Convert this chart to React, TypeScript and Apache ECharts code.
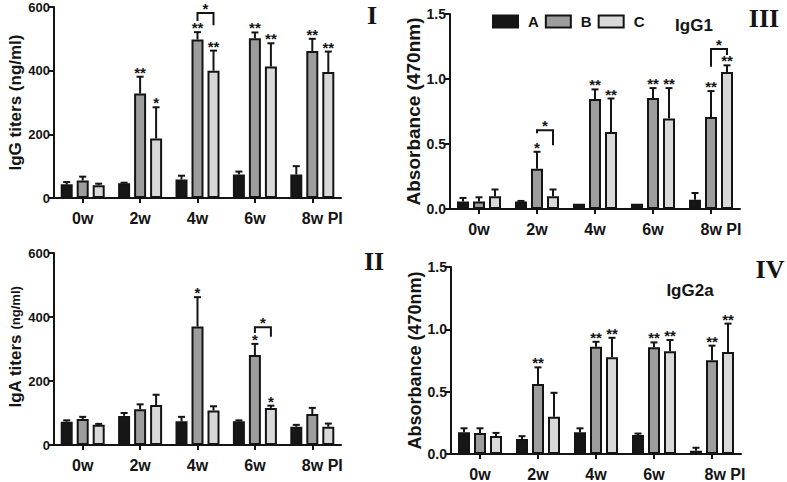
import React, { useEffect, useRef } from "react";
import * as echarts from "echarts";

const categories = ["0w", "2w", "4w", "6w", "8w PI"];
const groupNames = ["A", "B", "C"];

// Panel I – IgG titers (ng/ml)
const igG_A = [43, 46, 58, 74, 74];
const igG_B = [55, 328, 498, 502, 462];
const igG_C = [40, 187, 400, 413, 396];
const igG_A_sd = [7, 2, 12, 9, 26];
const igG_B_sd = [12, 53, 23, 18, 38];
const igG_C_sd = [5, 98, 63, 73, 64];
const igG_sig = [["", "", ""], ["", "**", "*"], ["", "**", "**"], ["", "**", "**"], ["", "**", "**"]];
const igG_brackets = [{ cat: 2, top: 581, left: 556, right: 543, label: "*" }];

// Panel II – IgA titers (ng/ml)
const igA_A = [73, 91, 74, 74, 57];
const igA_B = [81, 112, 370, 281, 97];
const igA_C = [63, 125, 108, 116, 57];
const igA_A_sd = [4, 9, 14, 3, 6];
const igA_B_sd = [7, 15, 92, 35, 19];
const igA_C_sd = [3, 32, 13, 7, 10];
const igA_sig = [["", "", ""], ["", "", ""], ["", "*", ""], ["", "*", "*"], ["", "", ""]];
const igA_brackets = [{ cat: 3, top: 368, left: 350, right: 338, label: "*" }];

// Panel III – IgG1 absorbance (470nm)
const igG1_A = [0.057, 0.057, 0.04, 0.04, 0.072];
const igG1_B = [0.057, 0.31, 0.846, 0.853, 0.707];
const igG1_C = [0.098, 0.098, 0.593, 0.697, 1.054];
const igG1_A_sd = [0.028, 0.005, 0, 0, 0.051];
const igG1_B_sd = [0.033, 0.13, 0.074, 0.077, 0.2];
const igG1_C_sd = [0.052, 0.052, 0.257, 0.233, 0.051];
const igG1_sig = [["", "", ""], ["", "*", ""], ["", "**", "**"], ["", "**", "**"], ["", "**", "**"]];
const igG1_brackets = [
  { cat: 1, top: 0.606, left: 0.583, right: 0.49, label: "*" },
  { cat: 4, top: 1.23, left: 1.094, right: 1.184, label: "*" },
];

// Panel IV – IgG2a absorbance (470nm)
const igG2a_A = [0.174, 0.121, 0.174, 0.153, 0.026];
const igG2a_B = [0.169, 0.562, 0.861, 0.856, 0.753];
const igG2a_C = [0.145, 0.298, 0.776, 0.824, 0.819];
const igG2a_A_sd = [0.032, 0.022, 0.032, 0.011, 0.024];
const igG2a_B_sd = [0.037, 0.133, 0.039, 0.039, 0.116];
const igG2a_C_sd = [0.024, 0.193, 0.156, 0.09, 0.227];
const igG2a_sig = [["", "", ""], ["", "**", ""], ["", "**", "**"], ["", "**", "**"], ["", "**", "**"]];

const yTicks600 = [0, 200, 400, 600];
const yTicks15 = [0, 0.5, 1.0, 1.5];

const SANS = "'Liberation Sans', Arial, sans-serif";
const SERIF = "'Liberation Serif', 'Times New Roman', serif";
const INK = "#141414";
const FILLS = ["#161616", "#9d9d9d", "#d9d9d9"];
const BAR_W = 12;
const GAP = 4;
const STEP = BAR_W + GAP;

type Panel = {
  grid: { left: number; top: number; width: number; height: number };
  means: number[][];
  sds: number[][];
  sig: string[][];
  brackets: { cat: number; top: number; left: number; right: number; label: string }[];
  ticks: number[];
  decimals: number;
  name: string;
  nameRich?: boolean;
  nameGap: number;
  nameSize: number;
  namePad?: number[];
  tickSize: number;
  piPad: number;
};

const panels: Panel[] = [
  {
    grid: { left: 54, top: 7, width: 287, height: 191 },
    means: [igG_A, igG_B, igG_C],
    sds: [igG_A_sd, igG_B_sd, igG_C_sd],
    sig: igG_sig,
    brackets: igG_brackets,
    ticks: yTicks600,
    decimals: 0,
    name: "IgG titers (ng/ml)",
    nameGap: 16,
    nameSize: 17,
    tickSize: 13,
    piPad: 20,
  },
  {
    grid: { left: 54, top: 253, width: 287, height: 192 },
    means: [igA_A, igA_B, igA_C],
    sds: [igA_A_sd, igA_B_sd, igA_C_sd],
    sig: igA_sig,
    brackets: igA_brackets,
    ticks: yTicks600,
    decimals: 0,
    name: "{a|IgA titers }{b|(ng/ml)}",
    nameRich: true,
    nameGap: 18,
    nameSize: 17,
    namePad: [0, 0, 0, 4],
    tickSize: 13,
    piPad: 20,
  },
  {
    grid: { left: 450, top: 14, width: 290, height: 195 },
    means: [igG1_A, igG1_B, igG1_C],
    sds: [igG1_A_sd, igG1_B_sd, igG1_C_sd],
    sig: igG1_sig,
    brackets: igG1_brackets,
    ticks: yTicks15,
    decimals: 1,
    name: "Absorbance (470nm)",
    nameGap: 26,
    nameSize: 19,
    tickSize: 14,
    piPad: 20,
  },
  {
    grid: { left: 451, top: 267, width: 290, height: 188 },
    means: [igG2a_A, igG2a_B, igG2a_C],
    sds: [igG2a_A_sd, igG2a_B_sd, igG2a_C_sd],
    sig: igG2a_sig,
    brackets: [],
    ticks: yTicks15,
    decimals: 1,
    name: "Absorbance (470nm)",
    nameGap: 27,
    nameSize: 18,
    tickSize: 14,
    piPad: 26,
  },
];

function buildOption() {
  const grid: any[] = [];
  const xAxis: any[] = [];
  const yAxis: any[] = [];
  const series: any[] = [];

  panels.forEach((p, pi) => {
    grid.push({ ...p.grid, containLabel: false });
    xAxis.push({
      type: "category",
      gridIndex: pi,
      data: categories,
      axisLine: { show: true, lineStyle: { color: INK, width: 2 } },
      axisTick: { show: true, alignWithLabel: true, interval: 0, length: 5, lineStyle: { color: INK, width: 2 } },
      axisLabel: {
        interval: 0,
        hideOverlap: false,
        margin: 12,
        color: INK,
        fontFamily: SANS,
        fontWeight: "bold",
        fontSize: 16,
        formatter: (v: string) => (v === "8w PI" ? `{p|${v}}` : v),
        rich: {
          p: { padding: [0, 0, 0, p.piPad], fontFamily: SANS, fontWeight: "bold", fontSize: 16, color: INK },
        },
      },
      splitLine: { show: false },
    });
    const step = p.ticks[1] - p.ticks[0];
    yAxis.push({
      type: "value",
      gridIndex: pi,
      min: p.ticks[0],
      max: p.ticks[p.ticks.length - 1],
      interval: step,
      name: p.name,
      nameLocation: "middle",
      nameGap: p.nameGap,
      nameTextStyle: {
        color: INK,
        fontFamily: SANS,
        fontWeight: "bold",
        fontSize: p.nameSize,
        padding: p.namePad || 0,
        rich: p.nameRich
          ? {
              a: { fontFamily: SANS, fontWeight: "bold", fontSize: 17, color: INK },
              b: { fontFamily: SANS, fontWeight: "bold", fontSize: 13, color: INK },
            }
          : undefined,
      },
      axisLine: { show: true, lineStyle: { color: INK, width: 2 } },
      axisTick: { show: true, length: 5, lineStyle: { color: INK, width: 2 } },
      axisLabel: {
        margin: 4,
        color: INK,
        fontFamily: SANS,
        fontWeight: "bold",
        fontSize: p.tickSize,
        formatter: (v: number) => v.toFixed(p.decimals),
      },
      splitLine: { show: false },
    });

    // bars
    p.means.forEach((vals, g) => {
      series.push({
        type: "bar",
        name: groupNames[g],
        xAxisIndex: pi,
        yAxisIndex: pi,
        data: vals,
        barWidth: BAR_W,
        barGap: `${(GAP / BAR_W) * 100}%`,
        itemStyle: { color: FILLS[g], borderColor: INK, borderWidth: 2 },
        z: 2,
      });
    });

    // error bars
    const errData: number[][] = [];
    p.means.forEach((vals, g) => {
      vals.forEach((m, c) => {
        errData.push([c, m, m + p.sds[g][c], g]);
      });
    });
    series.push({
      type: "custom",
      xAxisIndex: pi,
      yAxisIndex: pi,
      data: errData,
      z: 1,
      silent: true,
      renderItem: (params: any, api: any) => {
        const c = api.value(0);
        const m = api.value(1);
        const t = api.value(2);
        const g = api.value(3);
        const b = api.coord([c, m]);
        const tp = api.coord([c, t]);
        const x = b[0] + (g - 1) * STEP;
        if (t - m <= 0) return { type: "group", children: [] };
        return {
          type: "group",
          children: [
            { type: "line", shape: { x1: x, y1: b[1], x2: x, y2: tp[1] }, style: { stroke: INK, lineWidth: 2 } },
            { type: "line", shape: { x1: x - 3.5, y1: tp[1], x2: x + 3.5, y2: tp[1] }, style: { stroke: INK, lineWidth: 2 } },
          ],
        };
      },
    });

    // significance stars
    const starData: number[][] = [];
    const starLabels: string[] = [];
    p.sig.forEach((row, c) => {
      row.forEach((s, g) => {
        if (s) {
          starData.push([c, p.means[g][c] + p.sds[g][c], g]);
          starLabels.push(s);
        }
      });
    });
    series.push({
      type: "custom",
      xAxisIndex: pi,
      yAxisIndex: pi,
      data: starData,
      z: 3,
      silent: true,
      renderItem: (params: any, api: any) => {
        const c = api.value(0);
        const t = api.value(1);
        const g = api.value(2);
        const tp = api.coord([c, t]);
        const x = tp[0] + (g - 1) * STEP;
        return {
          type: "text",
          x,
          y: tp[1] + 3,
          style: {
            text: starLabels[params.dataIndex],
            textAlign: "center",
            textVerticalAlign: "bottom",
            font: `bold 15px ${SANS}`,
            fill: INK,
          },
        };
      },
    });

    // brackets
    if (p.brackets.length) {
      series.push({
        type: "custom",
        xAxisIndex: pi,
        yAxisIndex: pi,
        data: p.brackets.map((br) => [br.cat, br.top, br.left, br.right]),
        z: 3,
        silent: true,
        renderItem: (params: any, api: any) => {
          const c = api.value(0);
          const top = api.coord([c, api.value(1)]);
          const l = api.coord([c, api.value(2)]);
          const r = api.coord([c, api.value(3)]);
          const x1 = top[0];
          const x2 = top[0] + STEP;
          return {
            type: "group",
            children: [
              {
                type: "polyline",
                shape: { points: [[x1, l[1]], [x1, top[1]], [x2, top[1]], [x2, r[1]]] },
                style: { stroke: INK, lineWidth: 2, fill: "none" },
              },
              {
                type: "text",
                x: (x1 + x2) / 2,
                y: top[1] + 3,
                style: {
                  text: p.brackets[params.dataIndex].label,
                  textAlign: "center",
                  textVerticalAlign: "bottom",
                  font: `bold 15px ${SANS}`,
                  fill: INK,
                },
              },
            ],
          };
        },
      });
    }
  });

  const roman = [
    { t: "I", x: 372, y: 15 },
    { t: "II", x: 374, y: 261 },
    { t: "III", x: 764, y: 18 },
    { t: "IV", x: 770, y: 269 },
  ];

  return {
    animation: false,
    backgroundColor: "#ffffff",
    grid,
    xAxis,
    yAxis,
    series,
    legend: {
      data: groupNames,
      left: 487,
      top: 9,
      icon: "rect",
      itemWidth: 25,
      itemHeight: 12,
      itemGap: 6,
      selectedMode: false,
      textStyle: { color: INK, fontFamily: SANS, fontWeight: "bold", fontSize: 15, padding: [0, 0, 0, 5] },
    },
    graphic: [
      ...roman.map((r) => ({
        type: "text",
        x: r.x,
        y: r.y,
        style: {
          text: r.t,
          textAlign: "center",
          textVerticalAlign: "middle",
          font: `bold 26px ${SERIF}`,
          fill: INK,
        },
      })),
      {
        type: "text",
        x: 694,
        y: 25,
        style: { text: "IgG1", textAlign: "center", textVerticalAlign: "middle", font: `bold 17px ${SANS}`, fill: INK },
      },
      {
        type: "text",
        x: 690,
        y: 290,
        style: { text: "IgG2a", textAlign: "center", textVerticalAlign: "middle", font: `bold 17px ${SANS}`, fill: INK },
      },
    ],
  };
}

export default function App() {
  const ref = useRef<HTMLDivElement>(null);
  useEffect(() => {
    document.body.style.margin = "0";
    if (!ref.current) return;
    const chart = echarts.init(ref.current, undefined, { renderer: "svg" });
    chart.setOption(buildOption() as any);
    return () => chart.dispose();
  }, []);
  return <div ref={ref} style={{ width: 787, height: 482 }} />;
}
